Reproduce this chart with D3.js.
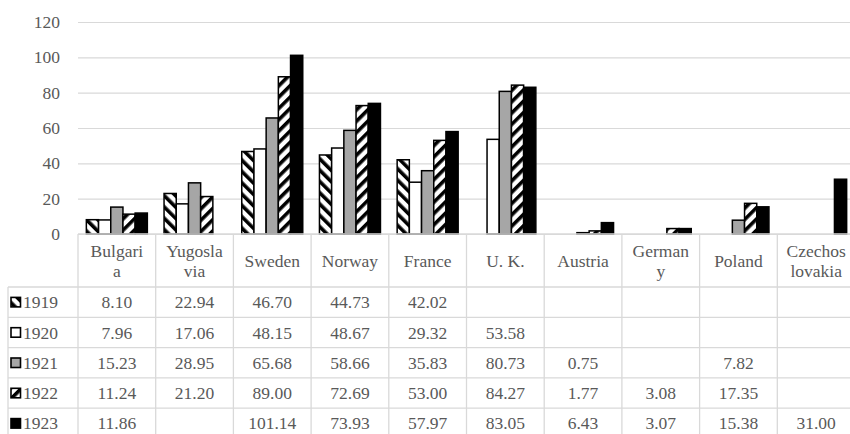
<!DOCTYPE html>
<html>
<head>
<meta charset="utf-8">
<script src="https://cdn.jsdelivr.net/npm/d3@7"></script>
</head>
<body style="margin:0">
<svg id="chart" width="850" height="434"></svg>
<script>
// Categories and their header text as it wraps in the data table
const categories = ["Bulgaria", "Yugoslavia", "Sweden", "Norway", "France", "U. K.", "Austria", "Germany", "Poland", "Czechoslovakia"];
const headerLines = [["Bulgari", "a"], ["Yugosla", "via"], ["Sweden"], ["Norway"], ["France"], ["U. K."], ["Austria"], ["German", "y"], ["Poland"], ["Czechos", "lovakia"]];

const years = ["1919", "1920", "1921", "1922", "1923"];

// One array per year, aligned with categories (null = no value)
const v1919 = [8.10, 22.94, 46.70, 44.73, 42.02, null, null, null, null, null];
const v1920 = [7.96, 17.06, 48.15, 48.67, 29.32, 53.58, null, null, null, null];
const v1921 = [15.23, 28.95, 65.68, 58.66, 35.83, 80.73, 0.75, null, 7.82, null];
const v1922 = [11.24, 21.20, 89.00, 72.69, 53.00, 84.27, 1.77, 3.08, 17.35, null];
const v1923 = [11.86, null, 101.14, 73.93, 57.97, 83.05, 6.43, 3.07, 15.38, 31.00];

const yTicks = [0, 20, 40, 60, 80, 100, 120];

const seriesValues = [v1919, v1920, v1921, v1922, v1923];

const svg = d3.select("#chart");
const textColor = "#595959";
const gridColor = "#d9d9d9";
const fontSize = 17.5;
const textStyle = sel => sel
  .style("font-family", '"Liberation Serif", monospace')
  .attr("font-size", fontSize)
  .attr("fill", textColor);

// Patterns for the hatched series
const defs = svg.append("defs");
function hatch(id, angle) {
  const p = defs.append("pattern")
    .attr("id", id)
    .attr("patternUnits", "userSpaceOnUse")
    .attr("width", 8).attr("height", 8)
    .attr("patternTransform", `rotate(${angle})`);
  p.append("rect").attr("width", 8).attr("height", 8).attr("fill", "#fff");
  p.append("rect").attr("x", 0).attr("width", 3.6).attr("height", 8).attr("fill", "#000");
}
hatch("hatchDown", -45);
hatch("hatchUp", 45);

const fills = ["url(#hatchDown)", "#fff", "#a6a6a6", "url(#hatchUp)", "#000"];

// Layout
const plotLeft = 78, plotRight = 855;
const y = d3.scaleLinear().domain([0, 120]).range([234, 22]);
const x = d3.scaleBand().domain(categories).range([plotLeft, plotRight]).paddingInner(0).paddingOuter(0);
const barWidth = 12.2;
const groupWidth = barWidth * years.length;
const xs = d3.scaleBand().domain(years).range([0, groupWidth]).padding(0);

// Gridlines
const grid = svg.append("g").attr("transform", `translate(${plotLeft},0)`)
  .call(d3.axisLeft(y).tickValues(yTicks).tickSize(-(850 - plotLeft)).tickFormat(""));
grid.select(".domain").remove();
grid.selectAll("line").attr("stroke", gridColor).attr("stroke-width", 1.2);

// Y axis labels
const yAxis = svg.append("g").attr("transform", `translate(${plotLeft},0)`)
  .call(d3.axisLeft(y).tickValues(yTicks).tickSize(0).tickPadding(18));
yAxis.select(".domain").remove();
yAxis.selectAll("text").call(textStyle);

// Bars
const barData = [];
categories.forEach((c, ci) => {
  years.forEach((yr, si) => {
    const v = seriesValues[si][ci];
    if (v !== null) barData.push({ c, yr, si, v });
  });
});
svg.append("g").selectAll("rect").data(barData).join("rect")
  .attr("x", d => x(d.c) + (x.bandwidth() - groupWidth) / 2 + xs(d.yr))
  .attr("y", d => y(d.v))
  .attr("width", xs.bandwidth())
  .attr("height", d => y(0) - y(d.v))
  .attr("fill", d => fills[d.si])
  .attr("stroke", "#000")
  .attr("stroke-width", 1.5);

// Data table
const headerTop = 234, headerBottom = 287;
const tableLeft = 8;
const rowY = d3.scaleBand().domain(years).range([headerBottom, headerBottom + 30.3 * years.length]);
const tbl = svg.append("g");
const lineStyle = sel => sel.attr("stroke", gridColor).attr("stroke-width", 1.3);

// horizontal rules
tbl.append("line").attr("x1", plotLeft).attr("x2", 850).attr("y1", headerTop).attr("y2", headerTop).call(lineStyle);
years.forEach(yr => {
  tbl.append("line").attr("x1", tableLeft).attr("x2", 850).attr("y1", rowY(yr)).attr("y2", rowY(yr)).call(lineStyle);
});
// vertical rules
tbl.append("line").attr("x1", tableLeft).attr("x2", tableLeft).attr("y1", headerBottom).attr("y2", 434).call(lineStyle);
categories.forEach(c => {
  tbl.append("line").attr("x1", x(c)).attr("x2", x(c)).attr("y1", headerTop).attr("y2", 434).call(lineStyle);
});

// header text
categories.forEach((c, ci) => {
  const lines = headerLines[ci];
  const cx = x(c) + x.bandwidth() / 2;
  const mid = (headerTop + headerBottom) / 2;
  const lh = 20;
  lines.forEach((t, li) => {
    tbl.append("text")
      .attr("x", cx)
      .attr("y", mid + (li - (lines.length - 1) / 2) * lh)
      .attr("dy", "0.35em")
      .attr("text-anchor", "middle")
      .call(textStyle)
      .text(t);
  });
});

// row labels with legend keys
years.forEach((yr, si) => {
  const cy = rowY(yr) + rowY.bandwidth() / 2;
  const keySize = 9.5;
  tbl.append("rect")
    .attr("x", 11).attr("y", cy - keySize / 2)
    .attr("width", keySize).attr("height", keySize)
    .attr("fill", fills[si]).attr("stroke", "#000").attr("stroke-width", 1.6);
  tbl.append("text")
    .attr("x", 23).attr("y", cy).attr("dy", "0.35em")
    .call(textStyle)
    .text(yr);
  categories.forEach((c, ci) => {
    const v = seriesValues[si][ci];
    if (v === null) return;
    tbl.append("text")
      .attr("x", x(c) + x.bandwidth() / 2).attr("y", cy).attr("dy", "0.35em")
      .attr("text-anchor", "middle")
      .call(textStyle)
      .text(d3.format(".2f")(v));
  });
});
</script>
</body>
</html>
